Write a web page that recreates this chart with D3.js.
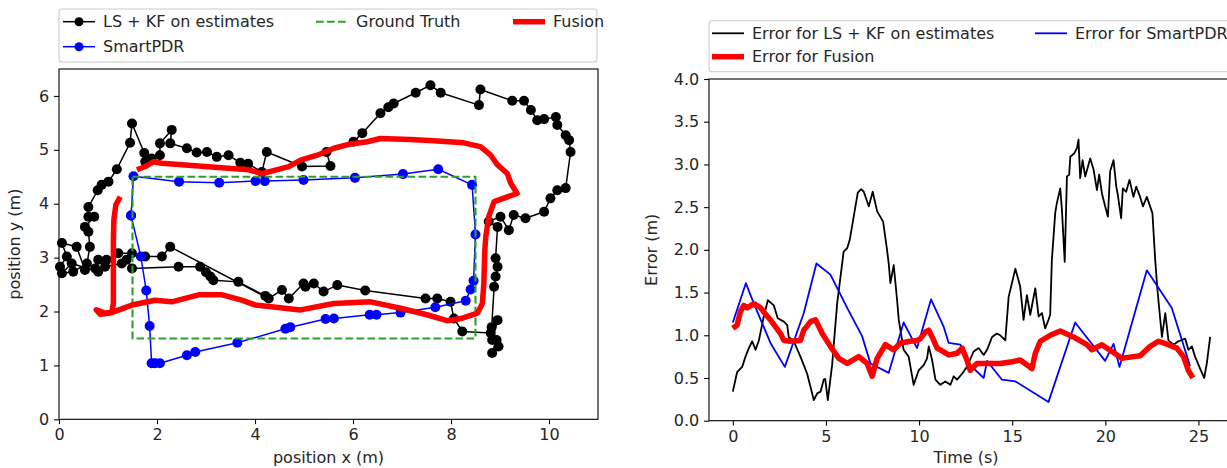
<!DOCTYPE html>
<html>
<head>
<meta charset="utf-8">
<script src="https://cdn.jsdelivr.net/npm/d3@7"></script>
<style>
  body { margin: 0; background: #fff; }
  svg { display: block; font-family: "DejaVu Sans", sans-serif; }
</style>
</head>
<body>
<div id="chart"></div>
<script>
// trajectory plot (left) ------------------------------------
var lskfX = [0.02, 0.16, 0.06, 0.36, 0.53, 0.74, 0.80, 0.97, 1.21, 1.49, 1.76, 2.10, 2.27,
  4.28, 4.55, 4.69, 4.99, 5.03, 5.20, 5.40, 5.68, 6.25, 7.48, 7.72, 7.99, 8.06, 8.23,
  8.81, 8.95, 8.84, 8.97, 8.84, 8.93, 8.83, 8.88, 8.91, 8.95, 8.91, 8.95, 8.77, 9.01,
  9.18, 9.28, 9.52, 9.90, 10.03, 10.17, 10.34, 10.44, 10.41, 10.34, 10.17, 10.14, 9.90,
  9.76, 9.63, 9.49, 9.25, 8.60, 8.57, 7.79, 7.58, 7.28, 6.83, 6.72, 6.56, 6.19, 6.01,
  5.46, 5.54, 4.96, 4.24, 4.14, 3.86, 3.70, 3.46, 3.22, 3.02, 2.81, 2.61, 2.27, 2.30,
  2.06, 2.06, 1.89, 1.76, 1.74, 1.49, 1.45, 1.18, 1.01, 0.87, 0.79, 0.60, 0.60, 0.72,
  0.53, 0.60, 0.63, 0.57, 0.29, 0.06, 0.26, 0.80, 0.94, 1.28, 1.38, 1.49, 2.44, 2.88,
  3.00, 3.09, 3.15, 3.66, 4.21];
var lskfY = [2.83, 3.02, 3.27, 3.20, 2.77, 2.80, 2.96, 2.96, 3.08, 3.08, 3.02, 3.02, 3.20,
  2.24, 2.40, 2.24, 2.52, 2.46, 2.52, 2.37, 2.49, 2.39, 2.24, 2.24, 2.18, 1.87, 1.63,
  1.60, 1.84, 1.47, 1.35, 1.23, 1.47, 1.71, 2.46, 2.65, 2.83, 2.99, 3.57, 3.67, 3.76,
  3.51, 3.79, 3.73, 3.85, 4.10, 4.25, 4.29, 4.96, 5.18, 5.27, 5.46, 5.61, 5.57,
  5.55, 5.74, 5.91, 5.91, 6.12, 5.83, 6.06, 6.20, 6.06, 5.86, 5.79, 5.68, 5.31, 5.15,
  4.96, 4.70, 4.69, 4.96, 4.59, 4.74, 4.76, 4.90, 4.87, 4.96, 4.95, 5.03, 5.12, 5.37,
  5.12, 4.90, 4.84, 4.78, 4.94, 5.49, 5.13, 4.64, 4.41, 4.35, 4.25, 3.94, 3.76, 3.76,
  3.57, 3.48, 3.20, 2.89, 2.74, 2.71, 2.89, 2.74, 2.83, 2.89, 2.96, 2.80, 2.83, 2.83,
  2.73, 2.65, 2.58, 2.55, 2.29];

var pdrX = [1.47, 1.52, 2.45, 3.27, 4.01, 4.20, 4.99, 6.04, 7.02, 7.74, 8.43, 8.50, 8.46,
  8.40, 8.30, 7.68, 6.97, 6.48, 6.34, 5.61, 5.44, 4.72, 4.62, 3.64, 2.78, 2.61, 2.06,
  1.96, 1.89, 1.85, 1.78, 1.67, 1.47];
var pdrY = [3.78, 4.51, 4.41, 4.39, 4.42, 4.42, 4.44, 4.48, 4.55, 4.64, 4.35, 3.43, 2.57,
  2.41, 2.20, 2.08, 1.98, 1.94, 1.94, 1.87, 1.86, 1.71, 1.68, 1.42, 1.25, 1.19, 1.04,
  1.04, 1.04, 1.73, 2.39, 3.02, 3.78];

var gtX = [1.5, 8.5, 8.5, 1.5, 1.5];
var gtY = [4.5, 4.5, 1.5, 1.5, 4.5];

var fusX = [1.25, 1.16, 1.12, 1.11, 1.11, 1.08, 0.94, 0.76, 0.84, 1.04, 1.49, 1.96, 2.30,
  2.85, 3.33, 3.73, 4.01, 4.93, 5.61, 6.36, 6.97, 7.51, 7.92, 8.20, 8.54, 8.64, 8.67,
  8.69, 8.71, 8.77, 8.88, 9.35, 9.22, 9.15, 8.95, 8.81, 8.60, 8.26, 7.65, 7.17, 6.56,
  6.29, 5.95, 5.61, 5.27, 4.93, 4.69, 4.14, 3.87, 2.98, 2.10, 1.93, 1.76, 1.59];
var fusY = [4.13, 3.98, 3.70, 3.33, 2.16, 1.99, 1.97, 2.03, 1.95, 1.97, 2.12, 2.21, 2.18,
  2.31, 2.31, 2.21, 2.12, 2.03, 2.15, 2.18, 2.06, 1.94, 1.83, 1.87, 1.97, 2.15, 2.52,
  3.14, 3.39, 3.76, 4.04, 4.19, 4.38, 4.56, 4.72, 4.90, 5.06, 5.13, 5.17, 5.19, 5.21,
  5.15, 5.11, 5.03, 4.90, 4.81, 4.69, 4.56, 4.63, 4.69, 4.75, 4.78, 4.69, 4.63];

// error plot (right) ----------------------------------------
var errLskfT = [0, 0.23, 0.5, 0.68, 0.86, 1.04, 1.22, 1.4, 1.66, 1.88, 2.2, 2.41, 2.74, 2.92,
  3.0, 3.27, 3.63, 3.99, 4.35, 4.53, 4.71, 4.88, 4.96, 5.1, 5.33, 5.6, 5.87, 5.95, 6.14,
  6.28, 6.49, 6.71, 6.89, 7.03, 7.3, 7.51, 7.75, 8.07, 8.28, 8.37, 8.46, 8.64, 8.82, 8.91,
  9.17, 9.44, 9.71, 9.98, 10.25, 10.43, 10.52, 10.7, 10.88, 11.14, 11.41, 11.68, 11.86,
  12.04, 12.31, 12.57, 12.93, 13.2, 13.47, 13.65, 13.92, 14.18, 14.36, 14.63, 14.81,
  15.17, 15.43, 15.61, 15.79, 15.97, 16.24, 16.42, 16.6, 16.77, 16.95, 17.04, 17.13,
  17.31, 17.4, 17.58, 17.67, 17.82, 17.94, 18.06, 18.12, 18.33, 18.48, 18.56, 18.65,
  18.78, 18.92, 19.19, 19.37, 19.55, 19.67, 19.82, 19.99, 20.14, 20.26, 20.44, 20.59,
  20.66, 20.85, 20.94, 21.12, 21.3, 21.51, 21.66, 21.87, 22.02, 22.23, 22.53, 22.68,
  22.8, 23.04, 23.22, 23.39, 23.66, 23.93, 24.29, 24.46, 24.65, 24.82, 25.09, 25.31,
  25.45, 25.63];
var errLskf = [0.34, 0.57, 0.63, 0.75, 0.85, 0.93, 0.83, 0.94, 1.22, 1.41, 1.35, 1.2, 1.16, 1.12,
  0.98, 0.93, 0.75, 0.55, 0.24, 0.32, 0.34, 0.48, 0.49, 0.24, 0.65, 1.37, 1.84, 1.98, 2.02,
  2.12, 2.39, 2.67, 2.71, 2.68, 2.51, 2.68, 2.45, 2.33, 2.0, 1.84, 1.61, 1.82, 1.41, 1.18,
  0.83, 0.75, 0.42, 0.59, 0.65, 0.73, 0.87, 0.71, 0.48, 0.42, 0.46, 0.42, 0.52,
  0.48, 0.55, 0.63, 0.81, 0.85, 0.77, 0.83, 0.98, 1.02, 1.0, 0.94, 1.45,
  1.78, 1.57, 1.18, 1.47, 1.24, 1.55, 1.22, 1.26, 1.08, 1.18, 1.24, 1.88,
  2.43, 2.55, 2.72, 2.47, 1.86, 2.86, 2.88, 3.09, 3.13, 3.19, 3.29, 2.84,
  3.05, 2.86, 3.07, 2.94, 2.7, 2.88, 2.66, 2.51, 2.39, 2.92, 3.05, 2.74,
  2.66, 2.37, 2.72, 2.68, 2.82, 2.62, 2.74, 2.62, 2.51, 2.62, 2.43, 1.88,
  1.53, 0.98, 1.26, 0.94, 0.89, 0.93, 0.96, 0.83, 0.87, 0.75, 0.61, 0.5,
  0.67, 0.98];

var errPdrT = [0, 0.70, 1.13, 2.02, 2.79, 3.81, 4.49, 5.24, 6.14, 6.94, 7.39, 8.37, 9.17, 9.89,
  10.64, 11.32, 11.59, 12.22, 12.75, 13.47, 13.65, 14.45, 15.17, 16.95, 18.38, 19.99,
  20.44, 20.76, 22.23, 23.57, 24.55];
var errPdr = [1.15, 1.61, 1.37, 0.91, 0.63, 1.26, 1.84, 1.71, 1.32, 0.99, 0.67, 0.56, 1.15, 0.85,
  1.42, 1.10, 0.91, 0.89, 0.65, 0.50, 0.70, 0.48, 0.46, 0.22, 1.15, 0.70,
  0.90, 0.63, 1.76, 1.32, 0.64];

var errFusT = [0, 0.23, 0.41, 0.59, 0.77, 1.13, 1.49, 2.02, 2.56, 2.74, 3.1, 3.63, 3.81, 4.17,
  4.44, 4.8, 5.24, 5.69, 6.14, 6.76, 7.21, 7.48, 7.75, 8.19, 8.64, 9.0, 9.53, 9.89, 10.07,
  10.34, 10.52, 10.7, 10.97, 11.14, 11.59, 12.04, 12.31, 12.57, 12.75, 13.11, 13.65, 14.36,
  14.99, 15.43, 16.06, 16.24, 16.51, 17.04, 17.58, 18.29, 19.01, 19.28, 19.82, 20.35,
  20.89, 21.51, 21.87, 22.41, 22.85, 23.39, 23.84, 24.2, 24.46, 24.7];
var errFus = [1.08, 1.12, 1.28, 1.35, 1.32, 1.37, 1.32, 1.18, 1.02, 0.94, 0.93, 0.94, 1.06, 1.16,
  1.18, 1.02, 0.87, 0.73, 0.67, 0.75, 0.67, 0.52, 0.73, 0.89, 0.83, 0.91, 0.93, 0.94, 0.96,
  1.04, 1.06, 0.98, 0.85, 0.83, 0.77, 0.79, 0.85, 0.71, 0.59, 0.67, 0.67, 0.67,
  0.69, 0.71, 0.61, 0.79, 0.93, 1.00, 1.05, 0.98, 0.89, 0.83, 0.89, 0.81,
  0.73, 0.75, 0.76, 0.87, 0.93, 0.89, 0.85, 0.75, 0.59, 0.50];

var leftTicksX = [0, 2, 4, 6, 8, 10];
var leftTicksY = [0, 1, 2, 3, 4, 5, 6];
var rightTicksX = [0, 5, 10, 15, 20, 25];
var rightTicksY = [0, 0.5, 1, 1.5, 2, 2.5, 3, 3.5, 4];

(function() {
  var W = 1227, H = 468;
  var textColor = "#262626";
  var fontSize = "16px";

  var svg = d3.select("#chart").append("svg")
    .attr("width", W)
    .attr("height", H);

  function zip(xs, ys) { return xs.map(function(x, i) { return [x, ys[i]]; }); }

  // spines, ticks and labels for one axes
  function frame(x, y, tx, ty, fmtX, fmtY, xlabel, ylabel, xlabelX, ylabelX) {
    var x0 = x.range()[0], x1 = x.range()[1], y0 = y.range()[0], y1 = y.range()[1];
    var gx = svg.append("g").attr("transform", "translate(0," + y0 + ")")
      .call(d3.axisBottom(x).tickValues(tx).tickFormat(fmtX).tickSize(4.9).tickPadding(4.9));
    var gy = svg.append("g").attr("transform", "translate(" + x0 + ",0)")
      .call(d3.axisLeft(y).tickValues(ty).tickFormat(fmtY).tickSize(4.9).tickPadding(4.9));
    [gx, gy].forEach(function(g) {
      g.select(".domain").remove();
      g.selectAll(".tick line").attr("stroke", "#000").attr("stroke-width", 1.1);
      g.selectAll(".tick text").attr("fill", textColor).style("font-size", fontSize)
        .style("font-family", "DejaVu Sans");
    });
    svg.append("rect")
      .attr("x", x0).attr("y", y1)
      .attr("width", x1 - x0).attr("height", y0 - y1)
      .attr("fill", "none").attr("stroke", "#000").attr("stroke-width", 1.1);
    svg.append("text")
      .attr("x", xlabelX).attr("y", 463)
      .attr("text-anchor", "middle").attr("fill", textColor).style("font-size", fontSize)
      .text(xlabel);
    svg.append("text")
      .attr("transform", "translate(" + ylabelX + "," + (y0 + y1) / 2 + ") rotate(-90)")
      .attr("text-anchor", "middle").attr("fill", textColor).style("font-size", fontSize)
      .text(ylabel);
  }

  function path(line, data, color, width, dash) {
    svg.append("path")
      .datum(data)
      .attr("d", line)
      .attr("fill", "none")
      .attr("stroke", color)
      .attr("stroke-width", width)
      .attr("stroke-linejoin", "round")
      .attr("stroke-dasharray", dash || null);
  }

  function dots(x, y, data, color) {
    svg.append("g").selectAll("circle")
      .data(data)
      .enter().append("circle")
      .attr("cx", function(d) { return x(d[0]); })
      .attr("cy", function(d) { return y(d[1]); })
      .attr("r", 5)
      .attr("fill", color);
  }

  function legendBox(x0, y0, x1, y1) {
    svg.append("rect")
      .attr("x", x0).attr("y", y0)
      .attr("width", x1 - x0).attr("height", y1 - y0)
      .attr("rx", 3)
      .attr("fill", "#fff").attr("fill-opacity", 0.8)
      .attr("stroke", "#ccc").attr("stroke-width", 1.1);
  }

  function legendItem(lx, ly, label, color, width, dash, marker) {
    svg.append("line")
      .attr("x1", lx).attr("x2", lx + 32).attr("y1", ly).attr("y2", ly)
      .attr("stroke", color).attr("stroke-width", width)
      .attr("stroke-dasharray", dash || null);
    if (marker) {
      svg.append("circle").attr("cx", lx + 16).attr("cy", ly).attr("r", 4.5).attr("fill", color);
    }
    svg.append("text")
      .attr("x", lx + 40).attr("y", ly).attr("dy", "0.35em")
      .attr("fill", textColor).style("font-size", fontSize)
      .text(label);
  }

  // ---- left: positions ----
  var xL = d3.scaleLinear().domain([0, 11]).range([59, 598]);
  var yL = d3.scaleLinear().domain([0, 6.5]).range([419.3, 69]);
  var lineL = d3.line().x(function(d) { return xL(d[0]); }).y(function(d) { return yL(d[1]); });

  frame(xL, yL, leftTicksX, leftTicksY, d3.format("d"), d3.format("d"),
    "position x (m)", "position y (m)", 328.5, 20);

  var lskf = zip(lskfX, lskfY);
  path(lineL, lskf, "#000", 1.5);
  dots(xL, yL, lskf, "#000");

  var pdr = zip(pdrX, pdrY);
  path(lineL, pdr, "#0000ff", 1.5);
  dots(xL, yL, pdr, "#0000ff");

  path(lineL, zip(gtX, gtY), "#2ca02c", 2.1, "7.7,3.3");
  path(lineL, zip(fusX, fusY), "#ff0000", 5.5);

  legendBox(59, 9, 597, 62);
  legendItem(63, 21.7, "LS + KF on estimates", "#000", 1.5, null, true);
  legendItem(63, 46.7, "SmartPDR", "#0000ff", 1.5, null, true);
  legendItem(316, 21.7, "Ground Truth", "#2ca02c", 2.1, "7.7,3.3", false);
  legendItem(513, 21.7, "Fusion", "#ff0000", 5.5, null, false);

  // ---- right: errors over time ----
  var xR = d3.scaleLinear().domain([-1.28, 26.91]).range([709, 1234]);
  var yR = d3.scaleLinear().domain([0, 4]).range([420.7, 79]);
  var lineR = d3.line().x(function(d) { return xR(d[0]); }).y(function(d) { return yR(d[1]); });

  frame(xR, yR, rightTicksX, rightTicksY, d3.format("d"), d3.format(".1f"),
    "Time (s)", "Error (m)", 966, 657);

  path(lineR, zip(errLskfT, errLskf), "#000", 1.8);
  path(lineR, zip(errPdrT, errPdr), "#0000ff", 1.8);
  path(lineR, zip(errFusT, errFus), "#ff0000", 5.5);

  legendBox(709, 20.7, 1240, 71.7);
  legendItem(712, 33.3, "Error for LS + KF on estimates", "#000", 1.8, null, false);
  legendItem(712, 56.7, "Error for Fusion", "#ff0000", 5.5, null, false);
  legendItem(1035, 33.3, "Error for SmartPDR", "#0000ff", 1.8, null, false);
})();
</script>
</body>
</html>
